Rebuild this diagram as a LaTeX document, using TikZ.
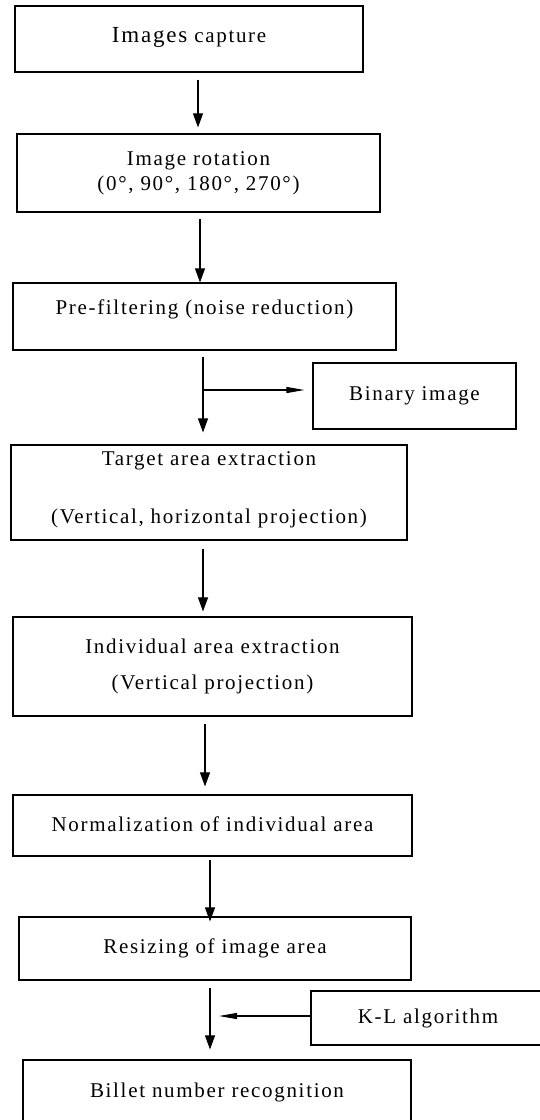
\documentclass[tikz,border=0pt]{standalone}
\usepackage{fontspec}
\setmainfont{Liberation Serif}[LetterSpace=8]
\usetikzlibrary{arrows.meta}
\begin{document}
\begin{tikzpicture}[x=1pt,y=-1pt,
  box/.style={draw,line width=1.2pt,inner sep=0pt,align=center,font=\fontsize{21}{24}\selectfont},
  arr/.style={line width=1.1pt,-{Triangle[width=10pt,length=14pt]}},
  harr/.style={line width=1.1pt,-{Triangle[width=6pt,length=18pt]}}]
\useasboundingbox (0,0) rectangle (539,1120);
\node[box,minimum width=348pt,minimum height=66pt] (b1) at (189,39)
  {\raisebox{9pt}{{\fontsize{23}{26}\selectfont Images} capture}};
\node[box,minimum width=363pt,minimum height=78pt] (b2) at (198.5,173)
  {\raisebox{3pt}{\shortstack{Image rotation\\[3pt](0°, 90°, 180°, 270°)}}};
\node[box,minimum width=383pt,minimum height=67pt] (b3) at (204.5,316.5)
  {\raisebox{19pt}{Pre-filtering (noise reduction)}};
\node[box,minimum width=203pt,minimum height=66pt] (bin) at (414.5,396)
  {Binary image};
\node[box,minimum width=396pt,minimum height=95pt] (b4) at (209,492.5)
  {\raisebox{10pt}{\shortstack{Target area extraction\\[35pt](Vertical, horizontal projection)}}};
\node[box,minimum width=399pt,minimum height=99pt] (b5) at (212.5,666.5)
  {\raisebox{-3pt}{\shortstack{Individual area extraction\\[18pt](Vertical projection)}}};
\node[box,minimum width=399pt,minimum height=61pt] (b6) at (212.5,825.5)
  {\raisebox{2pt}{Normalization of individual area}};
\node[box,minimum width=392pt,minimum height=63pt] (b7) at (215,948.5)
  {Resizing of image area};
\node[box,minimum width=234pt,minimum height=54pt] (kl) at (428,1018)
  {\raisebox{-3pt}{K-L algorithm}};
\node[box,minimum width=388pt,minimum height=66pt] (b8) at (217,1093)
  {\raisebox{6pt}{Billet number recognition}};
% arrow columns
\coordinate (x1) at (198,0);
\coordinate (x2) at (200,0);
\coordinate (x3) at (203,0);
\coordinate (x4) at (203,0);
\coordinate (x5) at (205,0);
\coordinate (x6) at (210,0);
\coordinate (x7) at (210,0);
\coordinate (j1) at (203,390);
\coordinate (k1) at (210,1016);
\draw[arr,shorten <=7pt,shorten >=6pt] (b1.south -| x1) -- (b2.north -| x1);
\draw[arr,shorten <=6pt,shorten >=0pt] (b2.south -| x2) -- (b3.north -| x2);
\draw[arr,shorten <=6pt,shorten >=12pt] (b3.south -| x3) -- (b4.north -| x3);
\draw[arr,shorten <=8pt,shorten >=5pt] (b4.south -| x4) -- (b5.north -| x4);
\draw[arr,shorten <=7pt,shorten >=8pt] (b5.south -| x5) -- (b6.north -| x5);
\draw[arr,shorten <=3pt,shorten >=-5pt] (b6.south -| x6) -- (b7.north -| x6);
\draw[arr,shorten <=7pt,shorten >=10pt] (b7.south -| x7) -- (b8.north -| x7);
\draw[harr,shorten >=8pt] (j1) -- (j1 -| bin.west);
\draw[harr,shorten >=9pt] (k1 -| kl.west) -- (k1);
\end{tikzpicture}
\end{document}
